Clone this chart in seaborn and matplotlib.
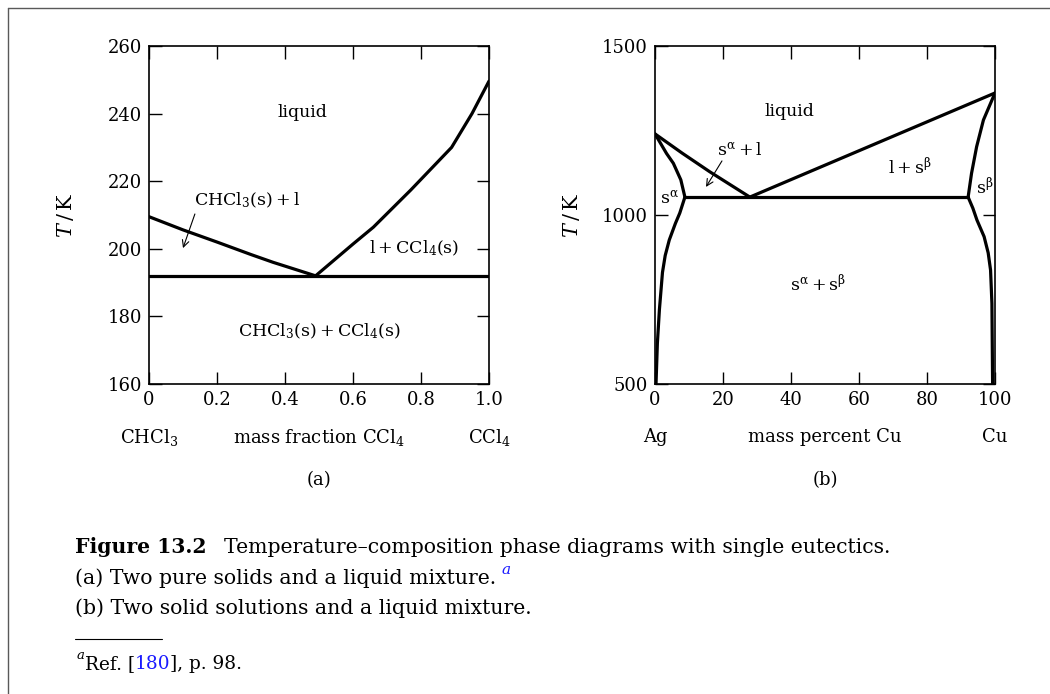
import numpy as np
import pandas as pd
import matplotlib
matplotlib.use('Agg')
import matplotlib.pyplot as plt
import seaborn as sns
from matplotlib.lines import Line2D

# panel (a): CHCl3 / CCl4
a_left_x=[0,0.1,0.2,0.3,0.365,0.49]
a_left_T=[209.5,205.6,202.0,198.3,196.0,192.0]
a_right_x=[0.49,0.6,0.66,0.77,0.89,0.95,1.0]
a_right_T=[192.0,201.4,206.4,217.4,230.0,240.0,249.6]
a_eut_x=[0,1.0]
a_eut_T=[192.0,192.0]
a_xticks=[0,0.2,0.4,0.6,0.8,1.0]
a_xlabels=['0','0.2','0.4','0.6','0.8','1.0']
a_yticks=[160,180,200,220,240,260]

# panel (b): Ag / Cu
b_liq_left_x=[0,8,16.1,27.9]
b_liq_left_T=[1240,1183,1128,1053]
b_liq_right_x=[27.9,100]
b_liq_right_T=[1053,1361]
b_sol_left_x=[0,3.4,5.4,7.6,8.8]
b_sol_left_T=[1240,1182,1153,1104,1053]
b_solv_left_x=[8.8,7.3,6.0,4.2,3.0,2.2,1.3,0.7,0.3]
b_solv_left_T=[1053,1006,975,926,880,830,720,620,500]
b_sol_right_x=[92.1,93.1,94.6,96.6,100]
b_sol_right_T=[1053,1123,1202,1281,1361]
b_solv_right_x=[92.1,93.5,94.7,96.8,98.0,98.7,99.1,99.3]
b_solv_right_T=[1053,1020,985,936,888,837,738,500]
b_eut_x=[8.8,92.1]
b_eut_T=[1053,1053]
b_xticks=[0,20,40,60,80,100]
b_yticks=[500,1000,1500]

sns.set_theme(style='ticks')
plt.rcParams['font.family']=['DejaVu Serif']
plt.rcParams['mathtext.fontset']='dejavuserif'
plt.rcParams['axes.linewidth']=1.2
plt.rcParams['text.color']='black'
plt.rcParams['axes.labelcolor']='black'

fig=plt.figure(figsize=(10.5,6.94),dpi=100)
fig.patch.set_facecolor('white')
ax_a=fig.add_axes([0.1419,0.4467,0.3238,0.487])
ax_b=fig.add_axes([0.6238,0.4467,0.3238,0.487])

def curve(ax,x,y):
    sns.lineplot(x=x,y=y,ax=ax,color='black',lw=2.3,sort=False,estimator=None,solid_joinstyle='round')

for x,y in [(a_left_x,a_left_T),(a_right_x,a_right_T),(a_eut_x,a_eut_T)]:
    curve(ax_a,x,y)
for x,y in [(b_liq_left_x,b_liq_left_T),(b_liq_right_x,b_liq_right_T),(b_sol_left_x,b_sol_left_T),
            (b_solv_left_x,b_solv_left_T),(b_sol_right_x,b_sol_right_T),(b_solv_right_x,b_solv_right_T),
            (b_eut_x,b_eut_T)]:
    curve(ax_b,x,y)

ax_a.set_xlim(0,1.0); ax_a.set_ylim(160,260)
ax_a.set_xticks(a_xticks); ax_a.set_xticklabels(a_xlabels)
ax_a.set_yticks(a_yticks)
ax_b.set_xlim(0,100); ax_b.set_ylim(500,1500)
ax_b.set_xticks(b_xticks); ax_b.set_yticks(b_yticks)

for ax in (ax_a,ax_b):
    for s in ax.spines.values():
        s.set_visible(True); s.set_color('black'); s.set_linewidth(1.2)
    ax.tick_params(direction='in',length=9,width=1.0,top=True,right=True,labelsize=13,pad=5,colors='black')
    ax.set_xlabel(''); ax.set_ylabel(r'$T\,/\,\mathrm{K}$',fontsize=15)
    ax.yaxis.set_label_coords(-0.215,0.5)
    ax.grid(False)

fs=12.5
arrow=dict(arrowstyle='->',color='black',lw=0.8,shrinkA=0,shrinkB=0)
# panel (a) labels
ax_a.text(0.45,240.3,'liquid',ha='center',va='center',fontsize=fs)
ax_a.text(0.29,214.4,r'$\mathrm{CHCl_3(s)+l}$',ha='center',va='center',fontsize=fs)
ax_a.annotate('',xy=(0.1,200.2),xytext=(0.135,210.3),arrowprops=arrow)
ax_a.text(0.78,200,r'$\mathrm{l+CCl_4(s)}$',ha='center',va='center',fontsize=fs)
ax_a.text(0.5,175.7,r'$\mathrm{CHCl_3(s)+CCl_4(s)}$',ha='center',va='center',fontsize=fs)
tr=ax_a.get_xaxis_transform()
ax_a.text(0,-0.157,r'$\mathrm{CHCl_3}$',transform=tr,ha='center',va='center',fontsize=13)
ax_a.text(0.5,-0.157,r'mass fraction $\mathrm{CCl_4}$',transform=tr,ha='center',va='center',fontsize=13)
ax_a.text(1.0,-0.157,r'$\mathrm{CCl_4}$',transform=tr,ha='center',va='center',fontsize=13)
ax_a.text(0.5,-0.284,'(a)',transform=tr,ha='center',va='center',fontsize=13)

# panel (b) labels
ax_b.text(39.6,1305,'liquid',ha='center',va='center',fontsize=fs)
ax_b.text(25,1190,r'$\mathrm{s^{\alpha}+l}$',ha='center',va='center',fontsize=fs)
ax_b.annotate('',xy=(15.0,1083),xytext=(19.7,1160),arrowprops=arrow)
ax_b.text(75,1140,r'$\mathrm{l+s^{\beta}}$',ha='center',va='center',fontsize=fs)
ax_b.text(4.4,1050,r'$\mathrm{s^{\alpha}}$',ha='center',va='center',fontsize=fs)
ax_b.text(97,1080,r'$\mathrm{s^{\beta}}$',ha='center',va='center',fontsize=fs)
ax_b.text(48,793,r'$\mathrm{s^{\alpha}+s^{\beta}}$',ha='center',va='center',fontsize=fs)
tr=ax_b.get_xaxis_transform()
ax_b.text(0,-0.157,'Ag',transform=tr,ha='center',va='center',fontsize=13)
ax_b.text(50,-0.157,'mass percent Cu',transform=tr,ha='center',va='center',fontsize=13)
ax_b.text(100,-0.157,'Cu',transform=tr,ha='center',va='center',fontsize=13)
ax_b.text(50,-0.284,'(b)',transform=tr,ha='center',va='center',fontsize=13)

# caption
cfs=14.7
fig.text(0.0714,0.2118,'Figure 13.2',fontsize=cfs,fontweight='bold',va='center',ha='left')
fig.text(0.2133,0.2118,'Temperature\u2013composition phase diagrams with single eutectics.',fontsize=cfs,va='center',ha='left')
t2=fig.text(0.0714,0.167,'(a) Two pure solids and a liquid mixture.',fontsize=cfs,va='center',ha='left')
ax_b.annotate('a',xy=(1,1),xycoords=t2,xytext=(4,4),textcoords='offset points',fontsize=11,style='italic',color='#1a1aff',va='top',ha='left',annotation_clip=False)
fig.text(0.0714,0.124,'(b) Two solid solutions and a liquid mixture.',fontsize=cfs,va='center',ha='left')
fig.add_artist(Line2D([0.0714,0.1543],[0.0793,0.0793],transform=fig.transFigure,color='black',lw=0.8))
t3=fig.text(0.0733,0.046,'a',fontsize=9.5,style='italic',va='bottom',ha='left')
t4=ax_b.annotate('Ref. [',xy=(1,0),xycoords=t3,xytext=(0,-5),textcoords='offset points',fontsize=13.3,va='baseline',ha='left',annotation_clip=False)
t5=ax_b.annotate('180',xy=(1,0),xycoords=t4,fontsize=13.3,color='#1a1aff',va='bottom',ha='left',annotation_clip=False)
ax_b.annotate('], p. 98.',xy=(1,0),xycoords=t5,fontsize=13.3,va='bottom',ha='left',annotation_clip=False)

# page frame
fig.add_artist(Line2D([0.0076,0.0076],[0,0.9885],transform=fig.transFigure,color='0.35',lw=1.0))
fig.add_artist(Line2D([0.0076,1.0],[0.9885,0.9885],transform=fig.transFigure,color='0.35',lw=1.0))

fig.savefig('out.png',dpi=100)
